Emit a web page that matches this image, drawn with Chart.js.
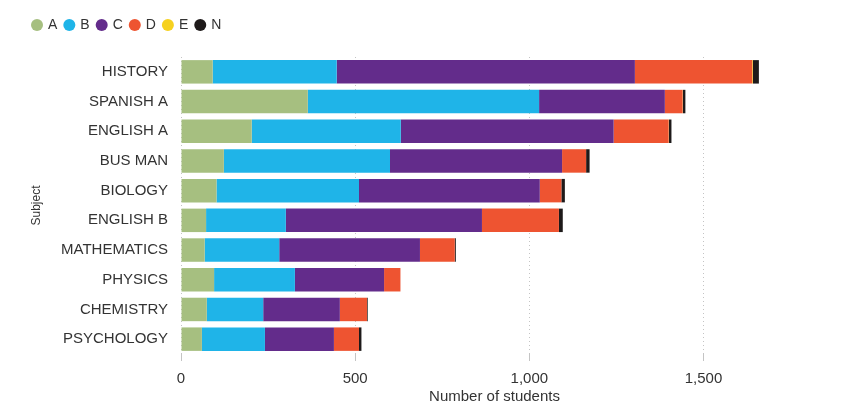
<!DOCTYPE html>
<html>
<head>
<meta charset="utf-8">
<script src="https://cdn.jsdelivr.net/npm/chart.js@4.4.0/dist/chart.umd.min.js"></script>
<style>
  html, body { margin: 0; padding: 0; background: #fff; }
  #wrap { width: 844px; height: 414px; }
</style>
</head>
<body>
<div id="wrap"><canvas id="gradeChart"></canvas></div>
<script>
// Grade distribution by subject
const subjects = ['HISTORY', 'SPANISH A', 'ENGLISH A', 'BUS MAN', 'BIOLOGY', 'ENGLISH B', 'MATHEMATICS', 'PHYSICS', 'CHEMISTRY', 'PSYCHOLOGY'];
const gradeA = [91, 364, 203, 123, 102, 72, 68, 95, 74, 60];
const gradeB = [356, 664, 428, 477, 409, 229, 214, 232, 162, 181];
const gradeC = [856, 361, 611, 494, 519, 563, 404, 256, 220, 198];
const gradeD = [337, 51, 158, 69, 62, 221, 100, 47, 78, 72];
const gradeE = [2, 1, 1, 0, 0, 0, 0, 0, 0, 0];
const gradeN = [17, 7, 7, 10, 10, 11, 3, 0, 2, 7];
const xTicks = [0, 500, 1000, 1500];

const textColor = '#333333';
const fontFamily = '"Liberation Sans", Arial, sans-serif';

// pushes the plot down below the legend
const legendSpacer = {
    id: 'legendSpacer',
    beforeInit(chart) {
        const fit = chart.legend.fit;
        chart.legend.fit = function () {
            fit.bind(chart.legend)();
            this.height += 15;
        };
    }
};

function makeSet(label, data, color) {
    return {
        label: label,
        data: data,
        backgroundColor: color,
        borderWidth: 0,
        categoryPercentage: 1,
        barPercentage: 0.79
    };
}

const ctx = document.getElementById('gradeChart');
new Chart(ctx, {
    type: 'bar',
    data: {
        labels: subjects,
        datasets: [
            makeSet('A', gradeA, '#a6bf80'),
            makeSet('B', gradeB, '#1fb4e8'),
            makeSet('C', gradeC, '#632c8b'),
            makeSet('D', gradeD, '#ee5431'),
            makeSet('E', gradeE, '#f6d11f'),
            makeSet('N', gradeN, '#1e1a1a')
        ]
    },
    options: {
        indexAxis: 'y',
        responsive: true,
        maintainAspectRatio: false,
        animation: false,
        layout: {
            padding: { left: 25, right: 36, top: 10, bottom: 8 }
        },
        plugins: {
            legend: {
                position: 'top',
                align: 'start',
                labels: {
                    usePointStyle: true,
                    pointStyle: 'circle',
                    boxWidth: 8,
                    boxHeight: 8.5,
                    padding: 8,
                    color: textColor,
                    font: { family: fontFamily, size: 14 }
                }
            },
            tooltip: { enabled: false }
        },
        scales: {
            x: {
                stacked: true,
                min: 0,
                max: 1800,
                afterBuildTicks: function (axis) {
                    axis.ticks = xTicks.map(v => ({ value: v }));
                },
                grid: {
                    color: '#c4c4c4',
                    lineWidth: 1,
                    tickLength: 7
                },
                border: { display: false, dash: [1, 3] },
                ticks: {
                    color: textColor,
                    padding: 9,
                    font: { family: fontFamily, size: 15 }
                },
                title: {
                    display: true,
                    text: 'Number of students',
                    color: textColor,
                    padding: { top: -9, bottom: 0 },
                    font: { family: fontFamily, size: 15 }
                }
            },
            y: {
                stacked: true,
                afterFit: function (scale) {
                    scale.width = 156;
                },
                grid: { display: false, drawTicks: false },
                border: { display: false },
                ticks: {
                    color: textColor,
                    padding: 13,
                    font: { family: fontFamily, size: 15 }
                },
                title: {
                    display: true,
                    text: 'Subject',
                    color: textColor,
                    padding: { top: 4, bottom: 0 },
                    font: { family: fontFamily, size: 12 }
                }
            }
        }
    },
    plugins: [legendSpacer]
});
</script>
</body>
</html>
